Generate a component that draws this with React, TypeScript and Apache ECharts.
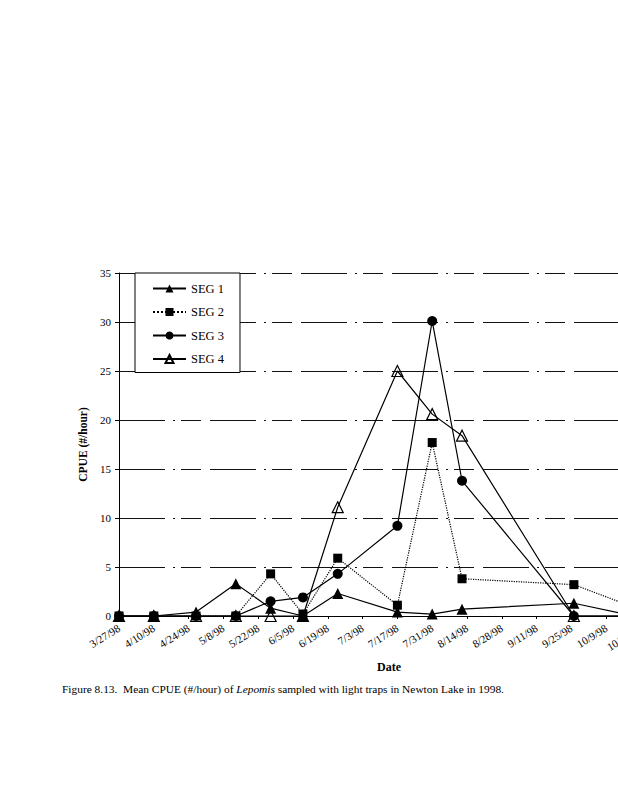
import React, { useEffect, useRef } from "react";
import * as echarts from "echarts";

const startDate = "1998-03-27";
const axisMaxDays = 210; // through 10/23/98
const tickDays = 14;
const sampleDates = [
  "1998-03-27", "1998-04-10", "1998-04-27", "1998-05-13", "1998-05-27", "1998-06-09",
  "1998-06-23", "1998-07-17", "1998-07-31", "1998-08-12", "1998-09-26", "1998-10-20",
];
const seg1 = [0, 0, 0.4, 3.3, 0.8, 0, 2.3, 0.4, 0.2, 0.7, 1.3, 0];
const seg2 = [0, 0, 0, 0, 4.3, 0.2, 5.9, 1.1, 17.7, 3.8, 3.2, 0.9];
const seg3 = [0, 0, 0, 0, 1.5, 1.9, 4.3, 9.2, 30.1, 13.8, 0, 0];
const seg4 = [0, 0, 0, 0, 0, 0, 11.1, 25.0, 20.6, 18.4, 0, 0];
const seriesNames = ["SEG 1", "SEG 2", "SEG 3", "SEG 4"];
const yMin = 0;
const yMax = 35;
const yStep = 5;
const yTitle = "CPUE (#/hour)";
const xTitle = "Date";
const captionA = "Figure 8.13.  Mean CPUE (#/hour) of ";
const captionB = "Lepomis";
const captionC = " sampled with light traps in Newton Lake in 1998.";

const SERIF = "'Liberation Serif', 'Times New Roman', serif";
const DAY = 86400000;
const t0 = Date.parse(startDate + "T00:00:00Z");
const dayOf = (s: string) => Math.round((Date.parse(s + "T00:00:00Z") - t0) / DAY);
const fmtDay = (v: number) => {
  const d = new Date(t0 + v * DAY);
  return `${d.getUTCMonth() + 1}/${d.getUTCDate()}/98`;
};
const pts = (vals: number[]) => vals.map((v, i) => [dayOf(sampleDates[i]), v]);

export default function App() {
  const ref = useRef<HTMLDivElement>(null);
  useEffect(() => {
    if (!ref.current) return;
    const chart = echarts.init(ref.current, undefined, { renderer: "svg" });
    const black = "#000";
    const common = {
      type: "line",
      showSymbol: true,
      emphasis: { disabled: true },
    };
    chart.setOption({
      animation: false,
      backgroundColor: "#fff",
      textStyle: { fontFamily: SERIF, color: black },
      grid: { left: 119, top: 273, width: 522, height: 343 },
      legend: {
        orient: "vertical",
        left: 135,
        top: 273,
        itemWidth: 33,
        itemHeight: 10,
        itemGap: 10.5,
        padding: [9, 16, 7, 17],
        borderColor: black,
        borderWidth: 1,
        backgroundColor: "#fff",
        textStyle: { fontFamily: SERIF, fontSize: 12.5, color: black },
        data: seriesNames,
      },
      xAxis: {
        type: "value",
        min: 0,
        max: axisMaxDays,
        interval: tickDays,
        splitLine: { show: false },
        axisLine: { lineStyle: { color: black, width: 1 } },
        axisTick: { show: true, length: 3, lineStyle: { color: black } },
        axisLabel: {
          rotate: 32,
          margin: 11,
          fontFamily: SERIF,
          fontSize: 11,
          color: black,
          formatter: (v: number) => fmtDay(v),
        },
      },
      yAxis: {
        type: "value",
        min: yMin,
        max: yMax,
        interval: yStep,
        name: yTitle,
        nameLocation: "middle",
        nameGap: 30,
        nameTextStyle: { fontFamily: SERIF, fontSize: 11.5, fontWeight: "bold", color: black },
        axisLine: { show: true, lineStyle: { color: black, width: 1 } },
        axisTick: { show: true, length: 4, lineStyle: { color: black } },
        axisLabel: { fontFamily: SERIF, fontSize: 11, color: black, margin: 8 },
        splitLine: {
          show: true,
          lineStyle: { color: "#111", width: 1, type: [46, 8, 2, 6, 20, 9] },
        },
      },
      series: [
        {
          ...common,
          name: seriesNames[0],
          data: pts(seg1),
          symbol: "triangle",
          symbolSize: 11,
          z: 2,
          lineStyle: { color: black, width: 1.2, type: "solid" },
          itemStyle: { color: black },
        },
        {
          ...common,
          name: seriesNames[1],
          data: pts(seg2),
          symbol: "rect",
          symbolSize: 9,
          z: 4,
          lineStyle: { color: black, width: 1.2, type: "dotted" },
          itemStyle: { color: black },
        },
        {
          ...common,
          name: seriesNames[2],
          data: pts(seg3),
          symbol: "circle",
          symbolSize: 10,
          z: 3,
          lineStyle: { color: black, width: 1.2, type: "solid" },
          itemStyle: { color: black },
        },
        {
          ...common,
          name: seriesNames[3],
          data: pts(seg4),
          symbol: "triangle",
          symbolSize: 11,
          z: 2,
          lineStyle: { color: black, width: 1.2, type: "solid" },
          itemStyle: { color: "rgba(255,255,255,0)", borderColor: black, borderWidth: 1.2 },
        },
      ],
      graphic: [
        {
          type: "text",
          left: 377,
          top: 661,
          style: { text: xTitle, font: `bold 12px ${SERIF}`, fill: black },
        },
        {
          type: "text",
          left: 62,
          top: 683,
          style: {
            text: `{a|${captionA}}{b|${captionB}}{a|${captionC}}`,
            rich: {
              a: { fontFamily: SERIF, fontSize: 11.4, color: black },
              b: { fontFamily: SERIF, fontSize: 11.4, fontStyle: "italic", color: black },
            },
          },
        },
      ],
    });
    return () => chart.dispose();
  }, []);
  return (
    <div style={{ position: "fixed", left: 0, top: 0, width: 618, height: 800, overflow: "hidden", background: "#fff" }}>
      <div ref={ref} style={{ width: 700, height: 800 }} />
    </div>
  );
}
